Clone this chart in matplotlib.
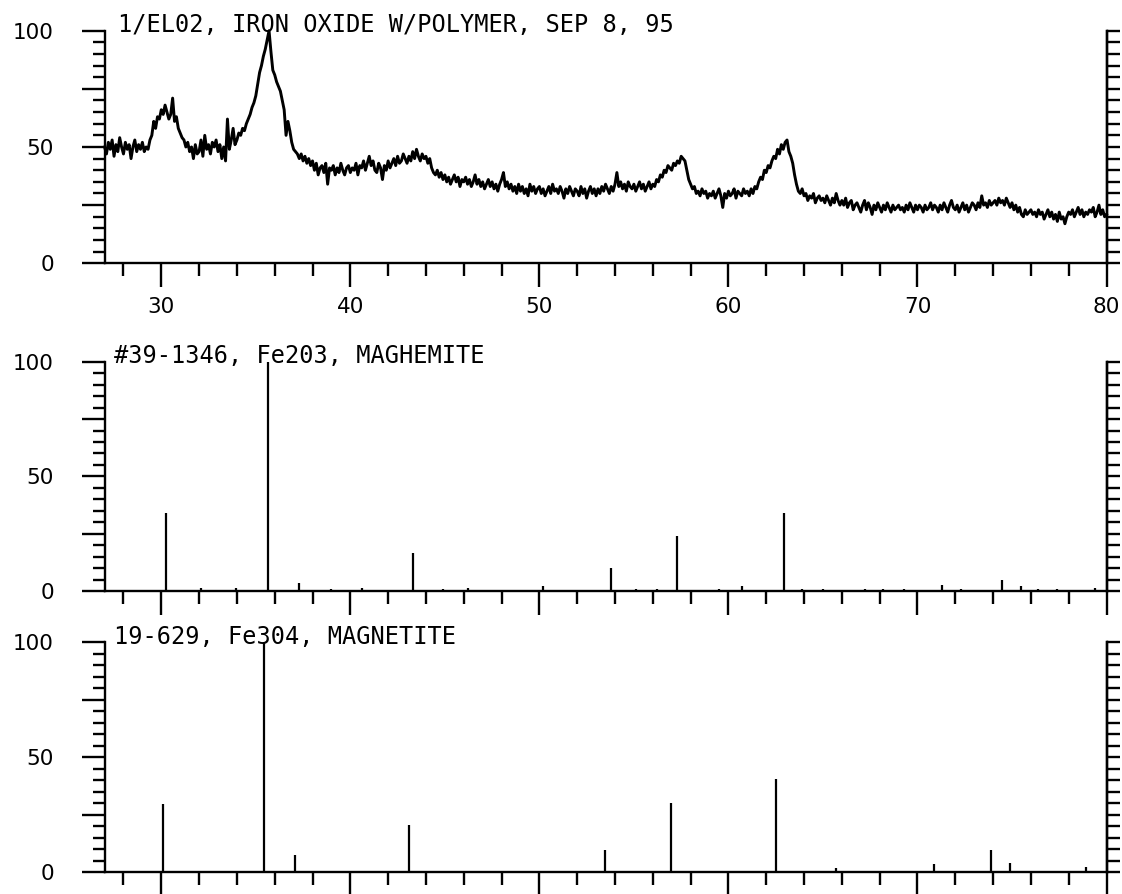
import numpy as np
import matplotlib
matplotlib.use('Agg')
import matplotlib.pyplot as plt

# Measured scan: 2-theta from 27.0 to 80.0 in 0.1 deg steps, relative counts (%)
scan_start = 27.0
scan_step = 0.1
counts = [
    50, 47, 52, 49, 53, 46, 51, 48, 54, 50,   # 27
    47, 52, 49, 51, 45, 50, 53, 48, 51, 49,   # 28
    52, 48, 50, 49, 53, 55, 61, 58, 63, 62,   # 29
    66, 64, 68, 65, 62, 64, 71, 61, 63, 58,   # 30
    56, 54, 53, 50, 52, 48, 50, 45, 51, 47,   # 31
    48, 53, 46, 55, 49, 51, 47, 52, 50, 53,   # 32
    48, 51, 45, 50, 44, 62, 49, 53, 58, 51,   # 33
    53, 56, 55, 58, 57, 60, 62, 64, 67, 69,   # 34
    72, 77, 82, 85, 89, 92, 96, 100, 91, 83,  # 35
    81, 78, 76, 74, 70, 66, 55, 61, 57, 52,   # 36
    49, 48, 47, 45, 47, 44, 46, 43, 45, 42,   # 37
    44, 40, 43, 38, 41, 42, 39, 43, 34, 41,   # 38
    40, 42, 38, 41, 39, 43, 40, 38, 41, 42,   # 39
    39, 41, 40, 43, 38, 42, 41, 44, 40, 43,   # 40
    46, 42, 44, 40, 39, 43, 41, 36, 42, 40,   # 41
    44, 41, 43, 45, 42, 46, 43, 44, 47, 45,   # 42
    43, 46, 44, 48, 45, 49, 46, 44, 47, 45,   # 43
    46, 43, 45, 41, 39, 38, 40, 37, 39, 36,   # 44
    38, 35, 37, 34, 36, 38, 35, 37, 33, 36,   # 45
    35, 37, 34, 36, 33, 35, 38, 34, 36, 33,   # 46
    35, 32, 34, 36, 33, 35, 32, 34, 31, 34,   # 47
    36, 39, 33, 35, 32, 34, 31, 33, 30, 34,   # 48
    31, 33, 30, 32, 29, 34, 31, 33, 30, 32,   # 49
    33, 30, 32, 29, 31, 33, 30, 34, 31, 32,   # 50
    30, 33, 31, 28, 32, 30, 33, 31, 29, 32,   # 51
    31, 29, 33, 30, 32, 28, 31, 33, 30, 32,   # 52
    29, 32, 30, 33, 31, 34, 32, 30, 33, 31,   # 53
    34, 39, 33, 35, 32, 34, 31, 35, 33, 32,   # 54
    34, 31, 33, 35, 32, 34, 31, 33, 35, 32,   # 55
    34, 33, 36, 35, 38, 37, 40, 39, 42, 41,   # 56
    40, 43, 42, 44, 43, 46, 45, 44, 40, 36,   # 57
    34, 32, 33, 30, 31, 29, 32, 30, 31, 28,   # 58
    30, 29, 31, 28, 30, 32, 29, 24, 30, 28,   # 59
    31, 29, 30, 32, 28, 31, 30, 29, 32, 30,   # 60
    31, 29, 32, 30, 33, 32, 35, 37, 36, 40,   # 61
    39, 42, 41, 44, 46, 45, 49, 47, 51, 49,   # 62
    52, 53, 48, 46, 43, 38, 34, 31, 30, 32,   # 63
    29, 30, 27, 29, 28, 30, 26, 28, 29, 27,   # 64
    28, 26, 29, 27, 25, 28, 26, 30, 27, 25,   # 65
    27, 25, 28, 24, 26, 27, 23, 25, 26, 24,   # 66
    22, 25, 27, 23, 26, 24, 21, 25, 23, 26,   # 67
    24, 22, 25, 23, 26, 24, 22, 25, 23, 24,   # 68
    25, 23, 24, 22, 25, 23, 26, 24, 22, 25,   # 69
    23, 25, 24, 22, 25, 23, 24, 26, 23, 25,   # 70
    24, 22, 25, 23, 26, 24, 22, 25, 27, 24,   # 71
    23, 25, 22, 24, 26, 23, 25, 22, 24, 26,   # 72
    25, 23, 26, 24, 29, 25, 26, 24, 27, 25,   # 73
    26, 27, 25, 28, 26, 27, 25, 28, 26, 24,   # 74
    26, 23, 25, 22, 24, 21, 20, 23, 21, 22,   # 75
    23, 21, 22, 20, 23, 21, 22, 19, 21, 23,   # 76
    20, 22, 19, 21, 18, 22, 19, 20, 17, 20,   # 77
    22, 21, 23, 20, 22, 24, 21, 23, 20, 22,   # 78
    21, 23, 22, 24, 20, 22, 25, 21, 23, 20,   # 79
    21,                                       # 80
]

# Reference card #39-1346 (maghemite)
maghemite_2theta = [30.24, 32.10, 33.95, 35.63, 37.30, 39.00, 40.60, 43.30, 44.90, 46.20,
                    50.20, 53.80, 55.10, 56.20, 57.27, 59.50, 60.70, 62.93, 63.90, 65.00,
                    67.20, 68.20, 69.30, 71.30, 72.30, 74.45, 75.50, 76.40, 77.40, 79.40]
maghemite_int = [34, 1.5, 1.5, 100, 3.5, 1, 1.5, 16.5, 1, 1.5,
                 2, 10, 1, 1, 24, 1, 2, 34, 1, 1,
                 1, 1, 1, 2.5, 1, 4.8, 2, 1, 1, 1.5]

# Reference card 19-629 (magnetite)
magnetite_2theta = [30.10, 35.45, 37.07, 43.10, 53.45, 56.97, 62.50, 65.70, 70.90, 73.90, 74.90, 78.93]
magnetite_int = [29.7, 100, 7.5, 20.6, 9.8, 30, 40.4, 1.9, 3.6, 9.7, 3.9, 2.2]

titles = ['1/EL02, IRON OXIDE W/POLYMER, SEP 8, 95',
          '#39-1346, Fe203, MAGHEMITE',
          '19-629, Fe304, MAGNETITE']

LW = 1.7


def style_axes(ax, show_xlabels):
    ax.set_xlim(27, 80)
    ax.set_ylim(0, 100)
    ax.spines['top'].set_visible(False)
    for s in ['left', 'right', 'bottom']:
        ax.spines[s].set_linewidth(LW)

    ax.set_xticks(np.arange(30, 81, 10))
    ax.set_xticks(np.arange(28, 80, 2), minor=True)
    ax.set_yticks([0, 25, 50, 75, 100])
    ax.set_yticklabels(['0', '', '50', '', '100'])
    ax.set_yticks(np.arange(0, 101, 5), minor=True)

    ax.tick_params(axis='x', which='major', direction='out', length=17, width=LW,
                   pad=7, labelsize=15.5, labelbottom=show_xlabels)
    ax.tick_params(axis='x', which='minor', direction='out', length=9, width=LW)
    ax.tick_params(axis='y', which='major', direction='out', length=16.5, width=LW,
                   pad=20, labelsize=15.5)
    ax.tick_params(axis='y', which='minor', direction='out', length=8.5, width=LW)

    # tick marks on the right edge, no labels
    right = ax.secondary_yaxis('right')
    right.set_yticks(np.arange(0, 101, 5))
    right.set_yticklabels([])
    right.tick_params(direction='out', length=9.5, width=LW)
    right.spines['right'].set_linewidth(LW)


def add_title(ax, text, x):
    ax.text(x, 99.3, text, fontsize=17, family='DejaVu Sans Mono',
            va='baseline', ha='left', clip_on=False)


def main():
    fig = plt.figure(figsize=(11.22, 8.94), dpi=100)

    ax1 = fig.add_axes([0.0932, 0.7055, 0.893, 0.2602])
    ax2 = fig.add_axes([0.0932, 0.3389, 0.893, 0.2565])
    ax3 = fig.add_axes([0.0932, 0.0243, 0.893, 0.2573])

    # Measured pattern
    two_theta = np.round(scan_start + scan_step * np.arange(len(counts)), 1)
    ax1.plot(two_theta, counts, color='black', lw=2.1, clip_on=False)
    style_axes(ax1, True)
    add_title(ax1, titles[0], 27.7)

    # Reference patterns as stick lines
    ax2.vlines(maghemite_2theta, 0, maghemite_int, color='black', lw=1.6)
    style_axes(ax2, False)
    add_title(ax2, titles[1], 27.5)

    ax3.vlines(magnetite_2theta, 0, magnetite_int, color='black', lw=1.6)
    style_axes(ax3, False)
    add_title(ax3, titles[2], 27.5)

    fig.savefig('out.png', dpi=100)


if __name__ == "__main__":
    main()
